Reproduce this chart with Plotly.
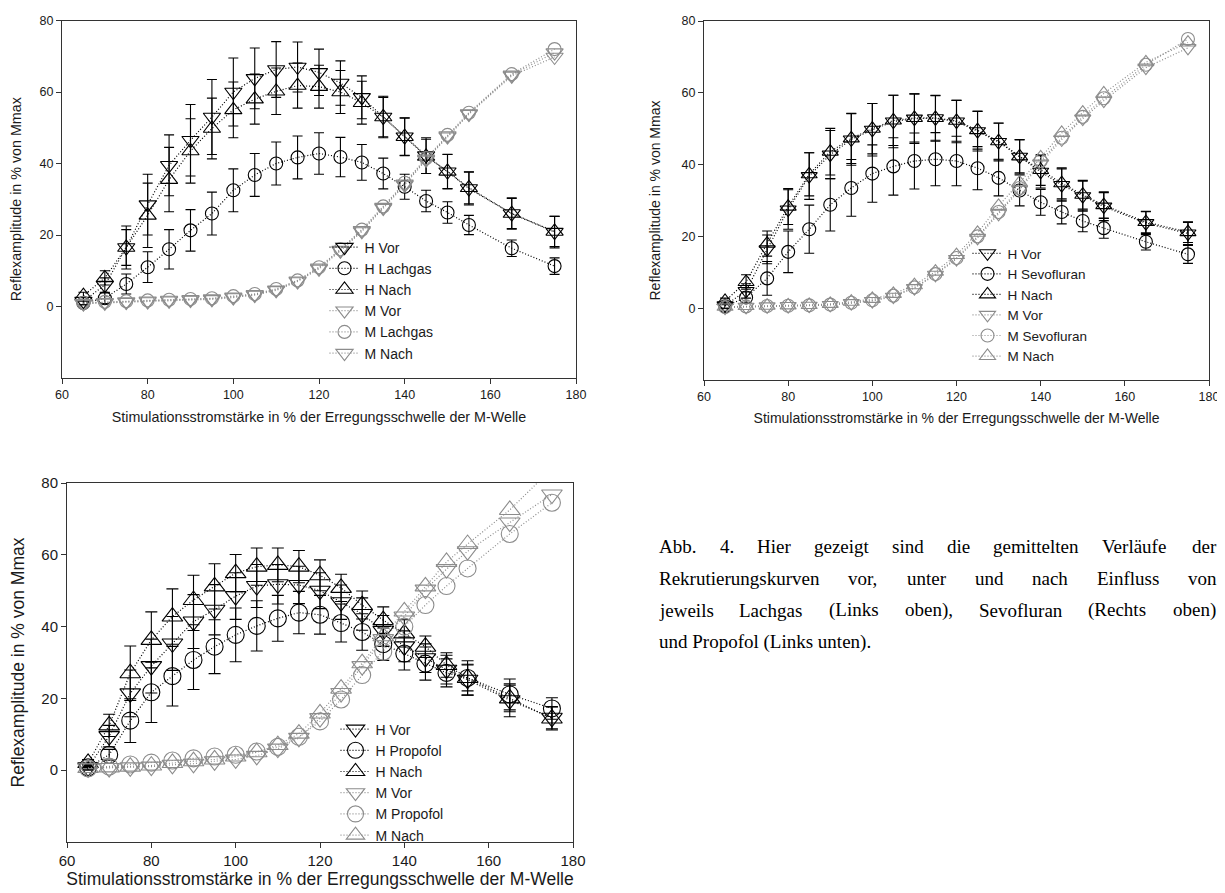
import plotly.graph_objects as go

# ---------------- data ----------------
X = [65, 70, 75, 80, 85, 90, 95, 100, 105, 110, 115, 120, 125, 130, 135, 140, 145, 150, 155, 165, 175]
X_TICKS = [60, 80, 100, 120, 140, 160, 180]
Y_TICKS = [0, 20, 40, 60, 80]

# Panel 1: Lachgas
h_vor_1 = [1.5, 6.0, 16.5, 28.5, 39.5, 46.5, 53.0, 60.0, 63.8, 66.3, 67.0, 65.5, 62.5, 58.5, 53.0, 47.5, 42.2, 37.7, 33.0, 26.0, 20.8]
h_vor_1_err = [1.0, 2.0, 5.0, 8.5, 8.5, 10.0, 10.5, 9.5, 8.5, 7.8, 7.0, 6.5, 6.2, 6.0, 5.5, 5.2, 5.0, 4.8, 4.6, 4.4, 4.4]
h_lach_1 = [1.0, 2.3, 6.3, 11.0, 16.0, 21.3, 26.0, 32.5, 36.8, 40.0, 41.7, 42.8, 41.8, 40.3, 37.2, 33.5, 29.5, 26.3, 22.8, 16.3, 11.3]
h_lach_1_err = [0.5, 1.5, 2.8, 4.3, 5.5, 5.8, 6.0, 6.0, 6.0, 6.0, 6.0, 5.8, 5.5, 5.0, 4.3, 3.5, 3.0, 3.0, 2.7, 2.3, 2.3]
h_nach_1 = [3.0, 8.0, 16.5, 25.5, 35.5, 43.5, 49.8, 55.0, 58.0, 60.2, 61.8, 61.5, 60.0, 57.0, 53.0, 47.5, 42.0, 37.8, 33.2, 26.0, 21.0]
h_nach_1_err = [1.0, 2.0, 6.0, 9.0, 9.0, 9.0, 8.5, 7.8, 7.0, 6.5, 6.3, 6.0, 6.0, 6.0, 5.8, 5.3, 4.8, 4.8, 4.5, 4.2, 4.2]
m_vor_1 = [0.8, 1.0, 1.2, 1.4, 1.6, 1.8, 2.0, 2.5, 3.2, 4.5, 7.0, 10.5, 15.6, 21.0, 27.5, 34.0, 41.0, 47.5, 53.8, 64.5, 69.8]
m_lach_1 = [1.0, 1.3, 1.5, 1.7, 1.9, 2.1, 2.3, 2.9, 3.5, 4.9, 7.3, 11.0, 16.0, 21.5, 28.0, 34.6, 41.5, 48.0, 54.2, 65.0, 72.0]
m_nach_1 = [0.9, 1.2, 1.4, 1.6, 1.8, 2.0, 2.2, 2.7, 3.4, 4.7, 7.2, 10.8, 15.8, 21.3, 27.8, 34.3, 41.3, 47.8, 54.0, 64.8, 71.0]

# Panel 2: Sevofluran
h_vor_2 = [0.8, 4.8, 16.4, 27.5, 36.8, 42.8, 47.0, 49.7, 52.0, 52.8, 52.9, 52.0, 49.3, 46.3, 42.2, 38.0, 34.3, 31.2, 28.3, 23.7, 20.8]
h_vor_2_err = [0.8, 2.0, 4.0, 5.5, 6.5, 6.7, 7.2, 7.3, 7.3, 6.9, 6.4, 5.9, 5.5, 5.3, 4.8, 4.5, 4.5, 4.2, 3.9, 3.2, 3.1]
h_sevo_2 = [0.5, 3.0, 8.3, 15.7, 22.0, 28.8, 33.5, 37.5, 39.5, 41.0, 41.5, 41.0, 39.0, 36.3, 32.8, 29.5, 26.8, 24.3, 22.3, 18.5, 15.0]
h_sevo_2_err = [0.5, 1.5, 4.7, 5.8, 6.7, 7.3, 7.9, 8.0, 8.0, 7.8, 7.4, 6.9, 6.0, 5.0, 4.3, 3.6, 3.3, 3.0, 2.8, 2.3, 2.5]
h_nach_2 = [2.0, 7.3, 18.0, 28.3, 37.3, 43.6, 47.3, 50.0, 52.3, 53.0, 53.0, 52.2, 49.6, 46.5, 42.3, 38.5, 34.8, 31.6, 28.7, 24.0, 21.2]
h_nach_2_err = [0.8, 2.0, 3.5, 5.0, 6.0, 6.5, 7.0, 7.0, 7.0, 6.7, 6.2, 5.7, 5.3, 5.0, 4.6, 4.3, 4.3, 4.0, 3.7, 3.0, 2.9]
m_vor_2 = [0.2, 0.4, 0.5, 0.6, 0.7, 0.9, 1.4, 2.0, 3.2, 5.6, 9.3, 13.7, 19.6, 26.3, 33.0, 40.3, 47.0, 52.8, 57.8, 67.0, 72.5]
m_sevo_2 = [0.3, 0.5, 0.6, 0.7, 0.8, 1.0, 1.5, 2.2, 3.5, 5.8, 9.5, 14.0, 20.0, 26.8, 33.5, 41.0, 47.5, 53.3, 58.5, 67.8, 75.0]
m_nach_2 = [0.4, 0.6, 0.7, 0.8, 0.9, 1.2, 1.8, 2.6, 4.0, 6.4, 10.2, 14.8, 21.0, 28.5, 35.0, 42.0, 48.8, 54.5, 59.8, 68.5, 74.0]

# Panel 3: Propofol
h_vor_3 = [0.8, 9.5, 21.4, 29.0, 35.3, 41.4, 44.7, 48.5, 51.3, 51.8, 51.6, 50.0, 46.8, 43.5, 38.8, 34.5, 31.2, 28.0, 25.2, 19.5, 14.6]
h_vor_3_err = [0.8, 3.0, 6.5, 7.5, 7.5, 7.5, 7.0, 6.5, 6.0, 5.5, 5.2, 5.0, 4.8, 4.5, 4.3, 4.3, 4.0, 4.0, 4.3, 4.6, 3.1]
h_prop_3 = [0.8, 4.3, 13.8, 21.7, 26.2, 30.7, 34.4, 37.7, 40.2, 42.3, 43.9, 43.3, 41.0, 38.5, 35.1, 32.5, 29.7, 27.1, 25.7, 21.1, 17.2]
h_prop_3_err = [0.5, 1.5, 6.1, 8.4, 8.3, 8.2, 7.5, 7.5, 7.0, 6.4, 5.9, 5.4, 5.3, 5.1, 4.5, 4.6, 4.6, 3.9, 4.8, 4.3, 3.0]
h_nach_3 = [2.0, 12.5, 27.0, 36.3, 42.8, 47.4, 51.2, 54.9, 56.7, 57.2, 56.7, 54.3, 50.8, 46.0, 41.8, 38.1, 34.4, 29.3, 25.7, 20.0, 14.4]
h_nach_3_err = [1.0, 3.1, 7.6, 7.8, 7.7, 6.9, 6.3, 5.2, 5.2, 4.7, 4.5, 4.3, 3.8, 3.9, 3.7, 3.8, 3.0, 3.4, 3.6, 3.7, 3.2]
m_vor_3 = [0.5, 0.6, 0.8, 1.0, 1.5, 1.8, 2.5, 3.0, 4.0, 6.0, 9.0, 14.5, 21.5, 29.0, 36.5, 42.8, 50.3, 56.0, 61.0, 69.0, 76.8]
m_prop_3 = [0.5, 1.0, 1.6, 2.1, 2.7, 3.3, 3.8, 4.3, 5.2, 6.5, 9.3, 13.6, 19.7, 26.5, 33.0, 40.0, 46.0, 51.3, 56.2, 65.8, 74.5]
m_nach_3 = [0.6, 0.8, 1.0, 1.3, 2.0, 2.5, 3.0, 3.8, 5.0, 7.0, 10.2, 15.8, 22.7, 29.8, 37.3, 44.2, 51.2, 58.0, 63.0, 72.5, 84.0]

X_TITLE = "Stimulationsstromstärke in % der Erregungsschwelle der M-Welle"
Y_TITLE = "Reflexamplitude in % von Mmax"

CAPTION_LINES = [
    "Abb. 4. Hier gezeigt sind die gemittelten Verläufe der",
    "Rekrutierungskurven vor, unter und nach Einfluss von",
    "jeweils Lachgas (Links oben), Sevofluran (Rechts oben)",
    "und Propofol (Links unten).",
]

# ---------------- style ----------------
W, H = 1225, 893
OFF = 8  # page body margin offsets the figure on screen
BLACK = "#000000"
GRAY = "#8c8c8c"
AXC = "#333333"
TXT = "#1a1a1a"
SANS = "Liberation Sans, Arial, sans-serif"
SERIF = "Liberation Serif, Times New Roman, serif"
DASH = "1px,2px"


def px_x(p):
    return (p - OFF) / W


def px_y(p):
    return 1 - (p - OFF) / H


panels = [
    dict(xa="x", ya="y", leg="legend", xd=[62, 576], yd=[20.5, 378], fs_tick=12.5, fs_title=14.3,
         fs_leg=14, ms_c=13, ms_t=15, cap=5, leg_x=324.5, leg_y=231.5, xstand=10, ystand=17,
         series=[
             ("H Vor", h_vor_1, h_vor_1_err, "triangle-down-open", BLACK),
             ("H Lachgas", h_lach_1, h_lach_1_err, "circle-open", BLACK),
             ("H Nach", h_nach_1, h_nach_1_err, "triangle-up-open", BLACK),
             ("M Vor", m_vor_1, None, "triangle-down-open", GRAY),
             ("M Lachgas", m_lach_1, None, "circle-open", GRAY),
             ("M Nach", m_nach_1, None, "triangle-down-open", GRAY),
         ]),
    dict(xa="x2", ya="y2", leg="legend2", xd=[704, 1209], yd=[21, 380], fs_tick=12.5, fs_title=14,
         fs_leg=13.5, ms_c=13, ms_t=14, cap=5, leg_x=967.5, leg_y=238, xstand=10, ystand=17,
         series=[
             ("H Vor", h_vor_2, h_vor_2_err, "triangle-down-open", BLACK),
             ("H Sevofluran", h_sevo_2, h_sevo_2_err, "circle-open", BLACK),
             ("H Nach", h_nach_2, h_nach_2_err, "triangle-up-open", BLACK),
             ("M Vor", m_vor_2, None, "triangle-down-open", GRAY),
             ("M Sevofluran", m_sevo_2, None, "circle-open", GRAY),
             ("M Nach", m_nach_2, None, "triangle-up-open", GRAY),
         ]),
    dict(xa="x3", ya="y3", leg="legend3", xd=[67, 573], yd=[483, 842], fs_tick=15, fs_title=17.5,
         fs_leg=14, ms_c=17, ms_t=18, cap=6, leg_x=335.5, leg_y=713.5, xstand=4, ystand=14,
         series=[
             ("H Vor", h_vor_3, h_vor_3_err, "triangle-down-open", BLACK),
             ("H Propofol", h_prop_3, h_prop_3_err, "circle-open", BLACK),
             ("H Nach", h_nach_3, h_nach_3_err, "triangle-up-open", BLACK),
             ("M Vor", m_vor_3, None, "triangle-down-open", GRAY),
             ("M Propofol", m_prop_3, None, "circle-open", GRAY),
             ("M Nach", m_nach_3, None, "triangle-up-open", GRAY),
         ]),
]

fig = go.Figure()
layout = dict(
    width=W, height=H, margin=dict(l=0, r=0, t=0, b=0, autoexpand=False),
    paper_bgcolor="white", plot_bgcolor="white",
    showlegend=True, annotations=[],
)

for i, p in enumerate(panels):
    for name, y, err, sym, col in p["series"]:
        size = p["ms_c"] if sym.startswith("circle") else p["ms_t"]
        tr = dict(
            x=X, y=y, name=name, mode="lines+markers",
            xaxis=p["xa"], yaxis=p["ya"], legend=p["leg"],
            line=dict(color=col, width=1.2, dash=DASH),
            marker=dict(symbol=sym, size=size, color=col, line=dict(color=col, width=1.1)),
        )
        if err is not None:
            tr["error_y"] = dict(type="data", array=err, visible=True, color=col, thickness=1.1, width=p["cap"])
        fig.add_trace(go.Scatter(**tr))

    sfx = "" if i == 0 else str(i + 1)
    xd = [px_x(p["xd"][0]), px_x(p["xd"][1])]
    yd = [px_y(p["yd"][1]), px_y(p["yd"][0])]
    common = dict(
        ticks="outside", ticklen=5, tickwidth=1, tickcolor=AXC,
        showline=True, linecolor=AXC, linewidth=1, mirror=True,
        showgrid=False, zeroline=False, automargin=False,
        tickfont=dict(family=SANS, size=p["fs_tick"], color=TXT),
    )
    layout["xaxis" + sfx] = dict(
        common, domain=xd, anchor="y" + sfx, range=[60, 180], tickvals=X_TICKS,
        title=dict(text=X_TITLE, font=dict(family=SANS, size=p["fs_title"], color=TXT), standoff=p["xstand"]),
    )
    layout["yaxis" + sfx] = dict(
        common, domain=yd, anchor="x" + sfx, range=[-20, 80], tickvals=Y_TICKS,
        title=dict(text=Y_TITLE, font=dict(family=SANS, size=p["fs_title"], color=TXT), standoff=p["ystand"]),
    )
    layout[p["leg"]] = dict(
        x=px_x(p["leg_x"]), y=px_y(p["leg_y"]), xanchor="left", yanchor="top",
        bgcolor="rgba(0,0,0,0)", borderwidth=0,
        font=dict(family=SANS, size=p["fs_leg"], color=TXT),
    )

# ---------------- caption (justified, Times metrics) ----------------
TIMES_W = {
    "A": 722, "b": 500, ".": 250, "4": 500, "H": 722, "i": 278, "e": 444, "r": 333, "g": 500, "z": 444,
    "t": 278, "s": 389, "n": 500, "d": 500, "m": 778, "l": 278, "V": 722, "ä": 444, "u": 500, "f": 333,
    "R": 667, "k": 500, "v": 500, "o": 500, ",": 250, "E": 611, "j": 278, "w": 722, "L": 611, "c": 444,
    "h": 500, "a": 444, "(": 333, ")": 333, "S": 556, "P": 556, "p": 500, " ": 250,
}
CAP_FS = 19
CAP_X0, CAP_X1 = 658, 1215
CAP_Y = [546, 578, 610, 642]


def tw(s):
    return sum(TIMES_W.get(c, 500) for c in s) * CAP_FS / 1000.0


cap_font = dict(family=SERIF, size=CAP_FS, color="#000000")
for li, line in enumerate(CAPTION_LINES):
    yy = px_y(CAP_Y[li])
    if li < len(CAPTION_LINES) - 1:
        words = line.split(" ")
        total = sum(tw(w) for w in words)
        gap = (CAP_X1 - CAP_X0 - total) / (len(words) - 1)
        xpos = CAP_X0
        for w in words:
            layout["annotations"].append(dict(
                text=w, x=px_x(xpos), y=yy, xref="paper", yref="paper",
                xanchor="left", yanchor="middle", showarrow=False, font=cap_font, borderpad=0,
            ))
            xpos += tw(w) + gap
    else:
        layout["annotations"].append(dict(
            text=line, x=px_x(CAP_X0), y=yy, xref="paper", yref="paper",
            xanchor="left", yanchor="middle", showarrow=False, font=cap_font, borderpad=0,
        ))

fig.update_layout(**layout)
fig.write_html("out.html")
